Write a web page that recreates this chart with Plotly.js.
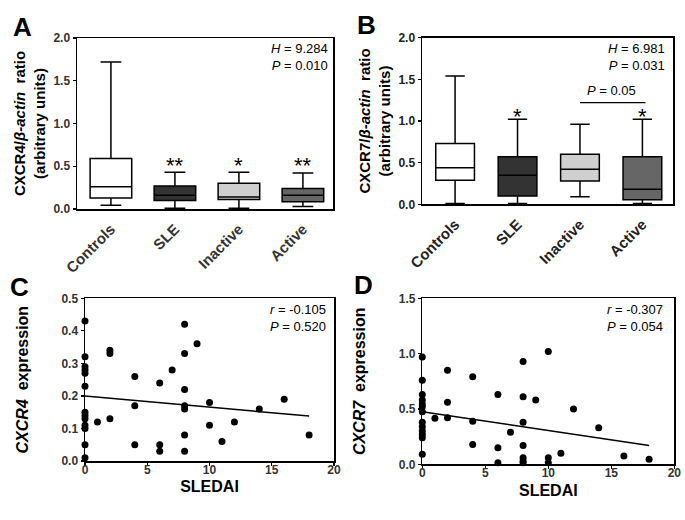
<!DOCTYPE html>
<html>
<head>
<meta charset="utf-8">
<script src="https://cdn.plot.ly/plotly-3.0.1.min.js"></script>
<style>html,body{margin:0;padding:0;background:#fff;}#chart{width:685px;height:520px;}</style>
</head>
<body>
<div id="chart"></div>
<script>
// ---------- data ----------
var groups = ["Controls", "SLE", "Inactive", "Active"];
var groupFill = ["#ffffff", "#333333", "#cfcfcf", "#666666"];

// Panel A: CXCR4/β-actin ratio (box summaries)
var cxcr4Low = [0.045, 0.01, 0.01, 0.03];
var cxcr4Q1  = [0.13, 0.10, 0.11, 0.085];
var cxcr4Med = [0.26, 0.16, 0.14, 0.16];
var cxcr4Q3  = [0.59, 0.27, 0.30, 0.24];
var cxcr4High= [1.72, 0.43, 0.43, 0.42];
var cxcr4Stars = ["", "**", "*", "**"];
var cxcr4StarY = [0, 0.51, 0.51, 0.51];

// Panel B: CXCR7/β-actin ratio (box summaries)
var cxcr7Low = [0.01, 0.01, 0.09, 0.01];
var cxcr7Q1  = [0.29, 0.10, 0.28, 0.055];
var cxcr7Med = [0.44, 0.35, 0.42, 0.18];
var cxcr7Q3  = [0.73, 0.57, 0.60, 0.57];
var cxcr7High= [1.54, 1.02, 0.96, 1.02];
var cxcr7Stars = ["", "*", "", "*"];
var cxcr7StarY = [0, 1.05, 0, 1.05];

// Panel C: SLEDAI vs CXCR4 expression
var sledaiC = [0,0,0,0,0,0,0,0,0,0,0,0,0, 1, 2,2,2, 4,4,4, 6,6,6, 7, 8,8,8,8,8,8,8, 9, 10,10, 11, 12, 14, 16, 18];
var cxcr4Expr = [0.43,0.32,0.29,0.28,0.27,0.23,0.15,0.14,0.13,0.11,0.10,0.05,0.01, 0.12, 0.34,0.33,0.13, 0.26,0.17,0.05, 0.24,0.05,0.03, 0.28, 0.42,0.33,0.22,0.17,0.16,0.08,0.03, 0.36, 0.18,0.11, 0.06, 0.12, 0.16, 0.19, 0.08];
var fitCx = [0, 18];
var fitCy = [0.20, 0.138];

// Panel D: SLEDAI vs CXCR7 expression
var sledaiD = [0,0,0,0,0,0,0,0,0,0,0,0,0, 1, 2,2,2, 4,4,4, 6,6,6, 7, 8,8,8,8,8,8,8, 9, 10,10,10, 11, 12, 14, 16, 18];
var cxcr7Expr = [0.97,0.76,0.63,0.58,0.545,0.52,0.475,0.38,0.34,0.30,0.27,0.24,0.09, 0.415, 0.85,0.56,0.42, 0.79,0.39,0.18, 0.63,0.15,0.015, 0.29, 0.93,0.61,0.38,0.17,0.06,0.03,0.015, 0.58, 1.02,0.06,0.015, 0.10, 0.50, 0.33, 0.075, 0.045];
var fitDx = [0, 18];
var fitDy = [0.475, 0.17];

// ---------- build ----------
var FONT = "Liberation Sans, Arial, sans-serif";
var traces = [];
function addBoxes(xa, ya, lo, q1, med, q3, hi, width) {
  for (var i = 0; i < groups.length; i++) {
    traces.push({
      type: "box", xaxis: xa, yaxis: ya,
      x: [groups[i]], q1: [q1[i]], median: [med[i]], q3: [q3[i]],
      lowerfence: [lo[i]], upperfence: [hi[i]],
      fillcolor: groupFill[i], line: {color: "#000", width: 1.5},
      whiskerwidth: 0.5, width: width, boxpoints: false,
      showlegend: false, hoverinfo: "skip", name: groups[i]
    });
  }
}
addBoxes("x", "y", cxcr4Low, cxcr4Q1, cxcr4Med, cxcr4Q3, cxcr4High, 0.65);
addBoxes("x2", "y2", cxcr7Low, cxcr7Q1, cxcr7Med, cxcr7Q3, cxcr7High, 0.62);

traces.push({type: "scatter", mode: "markers", xaxis: "x3", yaxis: "y3", x: sledaiC, y: cxcr4Expr,
  marker: {color: "#000", size: 7}, cliponaxis: false, showlegend: false, hoverinfo: "skip"});
traces.push({type: "scatter", mode: "lines", xaxis: "x3", yaxis: "y3", x: fitCx, y: fitCy,
  line: {color: "#000", width: 1.5}, showlegend: false, hoverinfo: "skip"});
traces.push({type: "scatter", mode: "markers", xaxis: "x4", yaxis: "y4", x: sledaiD, y: cxcr7Expr,
  marker: {color: "#000", size: 7}, cliponaxis: false, showlegend: false, hoverinfo: "skip"});
traces.push({type: "scatter", mode: "lines", xaxis: "x4", yaxis: "y4", x: fitDx, y: fitDy,
  line: {color: "#000", width: 1.5}, showlegend: false, hoverinfo: "skip"});

function axisBase(extra) {
  var a = {showline: true, mirror: true, linecolor: "#000", linewidth: 1.5, showgrid: false, zeroline: false,
    ticks: "outside", ticklen: 3, tickwidth: 1.2, tickcolor: "#000",
    tickfont: {family: FONT, size: 12, color: "#333", weight: "bold"}};
  for (var k in extra) a[k] = extra[k];
  return a;
}

var W = 685, H = 520;
function px(x) { return x / W; }
function py(y) { return 1 - y / H; }

var annotations = [];
function label(txt, x, y) {
  annotations.push({text: "<b>" + txt + "</b>", xref: "paper", yref: "paper", x: px(x), y: py(y),
    xanchor: "left", yanchor: "middle", showarrow: false, font: {family: FONT, size: 26, color: "#000"}});
}
label("A", 11, 27); label("B", 355, 25); label("C", 8, 287); label("D", 352, 285);

function stat(lines, xr, y) {
  annotations.push({text: lines, xref: "paper", yref: "paper", x: px(xr), y: py(y), xanchor: "right", yanchor: "top",
    align: "right", showarrow: false, font: {family: FONT, size: 13, color: "#000"}});
}
stat("<i>H</i> = 9.284<br><i>P</i> = 0.010", 330, 39);
stat("<i>H</i> = 6.981<br><i>P</i> = 0.031", 667, 39);
stat("<i>r</i> = -0.105<br><i>P</i> = 0.520", 328, 300);
stat("<i>r</i> = -0.307<br><i>P</i> = 0.054", 665, 300);

for (var i = 0; i < groups.length; i++) {
  if (cxcr4Stars[i]) annotations.push({text: cxcr4Stars[i], xref: "x", yref: "y", x: groups[i], y: cxcr4StarY[i],
    showarrow: false, yanchor: "middle", font: {family: FONT, size: 22, color: "#000"}});
  if (cxcr7Stars[i]) annotations.push({text: cxcr7Stars[i], xref: "x2", yref: "y2", x: groups[i], y: cxcr7StarY[i],
    showarrow: false, yanchor: "middle", font: {family: FONT, size: 22, color: "#000"}});
}
annotations.push({text: "<i>P</i> = 0.05", xref: "x2", yref: "y2", x: 2.5, y: 1.37, showarrow: false,
  font: {family: FONT, size: 13, color: "#000"}});

var titleFont = {family: FONT, size: 15, color: "#000", weight: "bold"};
var catFont = {family: FONT, size: 15, color: "#333", weight: "bold"};
var sTitleFont = {family: FONT, size: 16, color: "#000", weight: "bold"};

var layout = {
  width: W, height: H, margin: {l: 0, r: 0, t: 0, b: 0},
  paper_bgcolor: "#fff", plot_bgcolor: "#fff", showlegend: false,
  font: {family: FONT},
  xaxis: axisBase({domain: [px(77), px(333)], anchor: "y", type: "category", range: [-0.53, 3.47],
    tickangle: -45, ticks: "", ticklabelstandoff: 4, tickfont: catFont}),
  yaxis: axisBase({domain: [py(209), py(38)], anchor: "x", range: [0, 2], tickvals: [0, 0.5, 1, 1.5, 2], tickformat: ".1f",
    title: {text: "CXCR4/<i>β-actin</i>  ratio<br>(arbitrary units)", font: titleFont, standoff: 4}}),
  xaxis2: axisBase({domain: [px(422), px(673)], anchor: "y2", type: "category", range: [-0.53, 3.49],
    tickangle: -45, ticks: "", ticklabelstandoff: 4, tickfont: {family: FONT, size: 15, color: "#222", weight: "bold"}}),
  yaxis2: axisBase({domain: [py(204.3), py(37.7)], anchor: "x2", range: [0, 2], tickvals: [0, 0.5, 1, 1.5, 2], tickformat: ".1f",
    tickfont: {family: FONT, size: 12, color: "#222", weight: "bold"},
    title: {text: "CXCR7/<i>β-actin</i>  ratio<br>(arbitrary units)", font: titleFont, standoff: 4}}),
  xaxis3: axisBase({domain: [px(85), px(334)], anchor: "y3", range: [0, 20], tickvals: [0, 5, 10, 15, 20],
    ticklabelstandoff: -6, title: {text: "SLEDAI", font: sTitleFont, standoff: 5}}),
  yaxis3: axisBase({domain: [py(461), py(298.3)], anchor: "x3", range: [0, 0.5], tickvals: [0, 0.1, 0.2, 0.3, 0.4, 0.5], tickformat: ".1f",
    title: {text: "<i>CXCR4</i>  expression", font: sTitleFont, standoff: 29}}),
  xaxis4: axisBase({domain: [px(422.3), px(674.3)], anchor: "y4", range: [0, 20], tickvals: [0, 5, 10, 15, 20],
    ticklabelstandoff: -6, title: {text: "SLEDAI", font: sTitleFont, standoff: 5}}),
  yaxis4: axisBase({domain: [py(464.3), py(298.3)], anchor: "x4", range: [0, 1.5], tickvals: [0, 0.5, 1, 1.5], tickformat: ".1f",
    title: {text: "<i>CXCR7</i>  expression", font: sTitleFont, standoff: 29}}),
  annotations: annotations,
  shapes: [{type: "line", xref: "x2", yref: "y2", x0: 2, x1: 3.05, y0: 1.22, y1: 1.22, line: {color: "#000", width: 1.2}}]
};

Plotly.newPlot("chart", traces, layout, {staticPlot: true, displayModeBar: false});
</script>
</body>
</html>
